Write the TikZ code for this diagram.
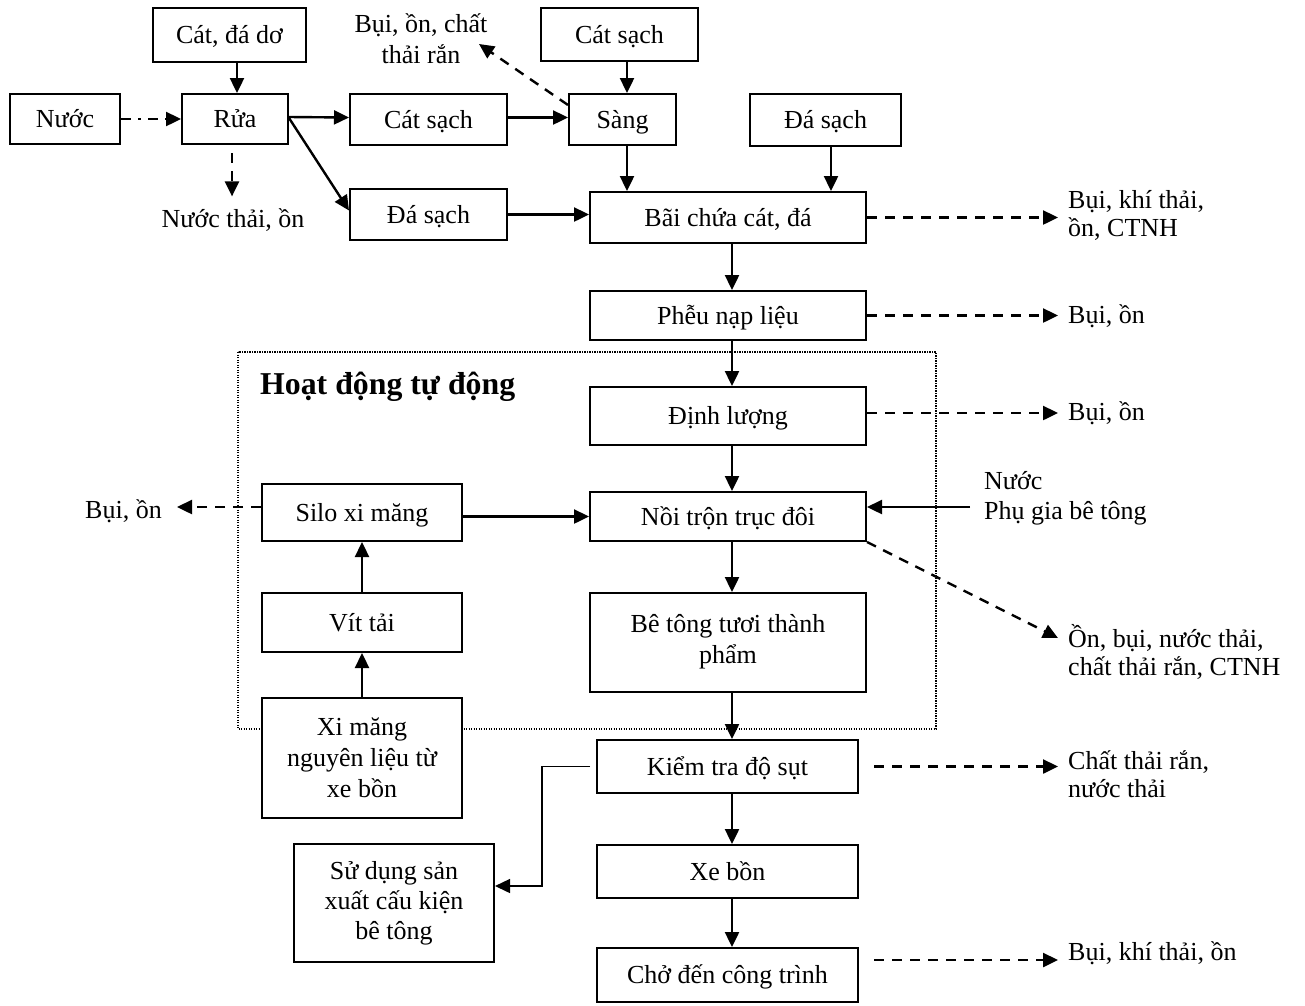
\documentclass[tikz,border=0pt]{standalone}
\usepackage{fontspec}
\setmainfont{Liberation Serif}
\usetikzlibrary{arrows.meta,calc}

\begin{document}
\begin{tikzpicture}[x=1pt,y=-1pt,
  every node/.style={font=\fontsize{26}{30}\selectfont},
  box/.style={draw, fill=white, line width=2pt, inner sep=0pt, align=center},
  one/.style={text height=23.2pt, text depth=5.6pt},
  lab/.style={inner sep=0pt, align=left, font=\fontsize{26}{28}\selectfont},
  arr/.style={line width=2.4pt, -{Triangle[length=15pt,width=14pt]}},
  darr/.style={arr, dash pattern=on 10pt off 8pt},
  ddarr/.style={arr, dash pattern=on 10pt off 7pt on 3pt off 7pt},
  thinarr/.style={line width=1.4pt, -{Triangle[length=15pt,width=14pt]}},
  group/.style={draw, line width=1.3pt, dash pattern=on 1.3pt off 1.2pt},
]
\useasboundingbox (0,0) rectangle (1305,1005);

% automatic operation area
\draw[group] (238,352) rectangle (936,729);
\node[anchor=west, inner sep=0pt, font=\fontsize{31.8}{34}\selectfont\bfseries] (auto) at (260,387) {Hoạt động tự động};

% washing and screening
\node[box, one, minimum width=153pt, minimum height=54pt] (cad) at (229.5,35) {Cát, đá dơ};
\node[box, one, minimum width=110pt, minimum height=50pt] (nuoc) at (65,119) {Nước};
\node[box, one, minimum width=106pt, minimum height=50pt] (rua) at (235,119) {Rửa};
\node[box, one, minimum width=157pt, minimum height=51pt] (cs1) at (428.5,119.5) {Cát sạch};
\node[box, one, minimum width=157pt, minimum height=51pt] (ds1) at (428.5,214.5) {Đá sạch};
\node[box, one, minimum width=107pt, minimum height=51pt] (sang) at (622.5,119.5) {Sàng};
\node[box, one, minimum width=157pt, minimum height=53pt] (cs2) at (619.5,34.5) {Cát sạch};
\node[box, one, minimum width=151pt, minimum height=52pt] (ds2) at (825.5,120) {Đá sạch};

% main production line
\node[box, one, minimum width=276pt, minimum height=51pt] (bai) at (728,217.5) {Bãi chứa cát, đá};
\node[box, one, minimum width=276pt, minimum height=49pt] (pheu) at (728,315.5) {Phễu nạp liệu};
\node[box, one, minimum width=276pt, minimum height=58pt] (dinh) at (728,416) {Định lượng};
\node[box, one, minimum width=276pt, minimum height=49pt] (noi) at (728,516.5) {Nồi trộn trục đôi};
\node[box, minimum width=276pt, minimum height=99pt, font=\fontsize{26}{31}\selectfont] (bt) at (728,642.5) {Bê tông tươi thành\\phẩm\\[-24pt]};
\node[box, one, minimum width=261pt, minimum height=53pt] (kt) at (727.5,766.5) {Kiểm tra độ sụt};
\node[box, one, minimum width=261pt, minimum height=53pt] (xb) at (727.5,871.5) {Xe bồn};
\node[box, one, minimum width=261pt, minimum height=54pt] (cho) at (727.5,975) {Chở đến công trình};

% cement line
\node[box, one, minimum width=200pt, minimum height=57pt] (silo) at (362,512.5) {Silo xi măng};
\node[box, one, minimum width=200pt, minimum height=59pt] (vit) at (362,622.5) {Vít tải};
\node[box, minimum width=200pt, minimum height=120pt, font=\fontsize{26}{31}\selectfont] (xm) at (362,758) {Xi măng\\nguyên liệu từ\\xe bồn};
\node[box, minimum width=200pt, minimum height=118pt] (sd) at (394,903) {Sử dụng sản\\xuất cấu kiện\\bê tông};

% emission labels
\node[lab, align=center, font=\fontsize{26}{31}\selectfont] (e1) at (421,39) {Bụi, ồn, chất\\thải rắn};
\node[lab, align=center] (e2) at (233,220) {Nước thải, ồn};
\node[lab, anchor=west] (e3) at (1068,215) {Bụi, khí thải,\\ồn, CTNH};
\node[lab, anchor=west] (e4) at (1068,316) {Bụi, ồn};
\node[lab, anchor=west] (e5) at (1068,413) {Bụi, ồn};
\node[lab, anchor=east] (e6) at (162,511) {Bụi, ồn};
\node[lab, anchor=west, font=\fontsize{26}{30}\selectfont] (np) at (984,498.5) {Nước\\Phụ gia bê tông};
\node[lab, anchor=west] (e7) at (1068,651.5) {Ồn, bụi, nước thải,\\chất thải rắn, CTNH};
\node[lab, anchor=west] (e8) at (1068,774) {Chất thải rắn,\\nước thải};
\node[lab, anchor=west] (e9) at (1068,953) {Bụi, khí thải, ồn};

% guide coordinates
\coordinate (colx) at (732,0);
\coordinate (sx) at (627,0);
\coordinate (dx) at (831,0);
\coordinate (rx) at (237,0);
\coordinate (wx) at (232,0);
\coordinate (vx) at (542,0);
\coordinate (t1) at (479,44);
\coordinate (t6) at (177,507);
\coordinate (t7) at (1058,638);
\coordinate (t9) at (1058,960);
\coordinate (npin) at (970,507);

% washing and screening flows
\draw[ddarr] (nuoc.east) -- (rua.west);
\draw[arr] (cad.south -| rx) -- (rua.north -| rx);
\draw[arr] ([yshift=2pt]rua.east) -- ([yshift=2pt]cs1.west);
\draw[arr] ([yshift=1pt]rua.east) -- ([yshift=4pt]ds1.west);
\draw[darr, shorten <=8pt, shorten >=12pt] (rua.south -| wx) -- (e2.north -| wx);
\draw[arr] ([yshift=2pt]cs1.east) -- ([yshift=2pt]sang.west);
\draw[arr] (cs2.south -| sx) -- (sang.north -| sx);
\draw[darr] ([yshift=-12pt]sang.north west) -- (t1);
\draw[arr] (sang.south -| sx) -- (bai.north -| sx);
\draw[arr] (ds2.south -| dx) -- (bai.north -| dx);
\draw[arr] (ds1.east) -- (ds1.east -| bai.west);

% main line flows
\draw[arr] (bai.south -| colx) -- (pheu.north -| colx);
\draw[arr] (pheu.south -| colx) -- (dinh.north -| colx);
\draw[arr] (dinh.south -| colx) -- (noi.north -| colx);
\draw[arr] (noi.south -| colx) -- (bt.north -| colx);
\draw[arr] (bt.south -| colx) -- (kt.north -| colx);
\draw[arr] (kt.south -| colx) -- (xb.north -| colx);
\draw[arr] (xb.south -| colx) -- (cho.north -| colx);

% cement flows
\draw[arr] (xm.north) -- (vit.south);
\draw[arr] (vit.north) -- (silo.south);
\draw[arr] (silo.east |- noi.west) -- (noi.west);
\draw[arr] (npin) -- (npin -| noi.east);

% emissions
\draw[darr, shorten >=10pt] (bai.east) -- (bai.east -| e3.west);
\draw[darr, shorten >=10pt] (pheu.east) -- (pheu.east -| e4.west);
\draw[darr, shorten >=10pt] ([yshift=3pt]dinh.east) -- (e5.west);
\draw[darr] ([yshift=5.5pt]silo.west) -- (t6);
\draw[darr] (noi.south east) -- (t7);
\draw[darr, shorten <=15pt, shorten >=10pt] (kt.east) -- (kt.east -| e8.west);
\draw[darr, shorten <=15pt] ([yshift=15pt]cho.east) -- (t9);

% slump test reject path
\draw[thinarr, shorten <=6pt] (kt.west) -- (kt.west -| vx) |- ([yshift=17pt]sd.east);
\end{tikzpicture}
\end{document}
